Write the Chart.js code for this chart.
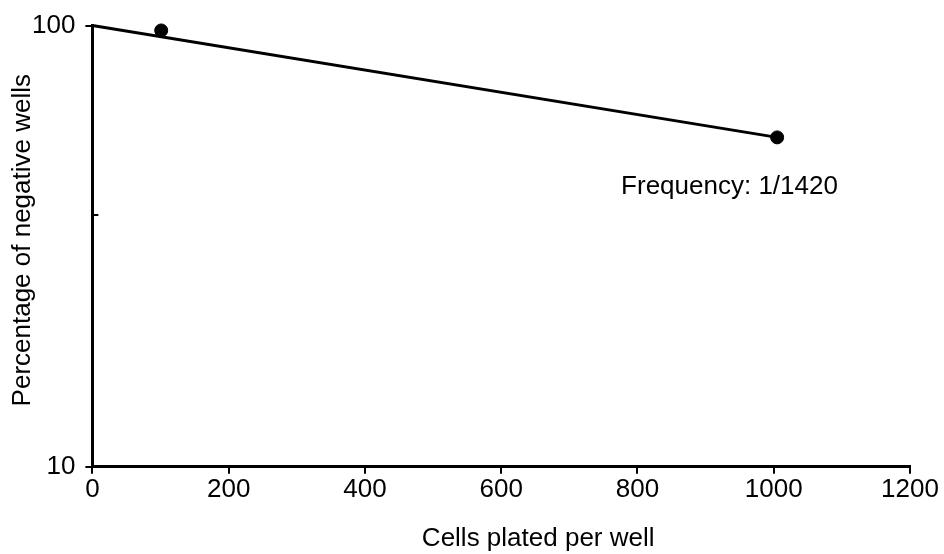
<!DOCTYPE html>
<html>
<head>
<meta charset="utf-8">
<script src="https://cdn.jsdelivr.net/npm/chart.js@4.4.1/dist/chart.umd.min.js"></script>
<style>
  html, body { margin: 0; padding: 0; background: #fff; }
  #wrap { width: 944px; height: 554px; }
</style>
</head>
<body>
<div id="wrap"><canvas id="chart"></canvas></div>
<script>
// measured wells
const cellsPlated = [101, 1005];
const pctNegative = [97.5, 55.8];

// fitted line (starts at 100% for zero cells)
const fitX = [0, 1005];
const fitY = [100, 55.8];

const yTickValues = [10, 100];
const yMinorTicks = [37.2];
const frequencyText = 'Frequency: 1/1420';
const frequencyAnchor = { x: 776, y: 43 };
const xTitle = 'Cells plated per well';
const yTitle = 'Percentage of negative wells';

const FONT = "'Liberation Sans', Arial, sans-serif";
const FS = 26;

const extraMarks = {
    id: 'extraMarks',
    afterDraw(chart) {
        const ctx = chart.ctx;
        const xs = chart.scales.x;
        const ys = chart.scales.y;
        ctx.save();
        // small inward tick on the y axis
        ctx.strokeStyle = '#000';
        ctx.lineWidth = 2;
        yMinorTicks.forEach(v => {
            const py = Math.round(ys.getPixelForValue(v));
            ctx.beginPath();
            ctx.moveTo(xs.left, py);
            ctx.lineTo(xs.left + 6, py);
            ctx.stroke();
        });
        ctx.fillStyle = '#000';
        ctx.font = FS + 'px ' + FONT;
        ctx.textBaseline = 'middle';
        ctx.textAlign = 'left';
        ctx.fillText(frequencyText, xs.getPixelForValue(frequencyAnchor.x), ys.getPixelForValue(frequencyAnchor.y));
        // axis titles, both a bit off-centre in the original
        ctx.textAlign = 'center';
        ctx.fillText(xTitle, (xs.left + xs.right) / 2 + 37, chart.height - 15);
        ctx.translate(23, (ys.top + ys.bottom) / 2 - 6);
        ctx.rotate(-Math.PI / 2);
        ctx.fillText(yTitle, 0, 0);
        ctx.restore();
    }
};

new Chart(document.getElementById('chart').getContext('2d'), {
    type: 'scatter',
    data: {
        datasets: [{
            type: 'line',
            data: fitX.map((x, i) => ({ x: x, y: fitY[i] })),
            borderColor: '#000',
            borderWidth: 3,
            pointRadius: 0,
            fill: false,
            clip: false
        }, {
            data: cellsPlated.map((x, i) => ({ x: x, y: pctNegative[i] })),
            backgroundColor: '#000',
            borderColor: '#000',
            pointRadius: 6.5,
            clip: false
        }]
    },
    options: {
        responsive: true,
        maintainAspectRatio: false,
        animation: false,
        layout: { padding: { top: 24, right: 34, left: 22, bottom: 49 } },
        plugins: { legend: { display: false }, tooltip: { enabled: false } },
        scales: {
            x: {
                type: 'linear',
                min: 0,
                max: 1200,
                ticks: { stepSize: 200, color: '#000', font: { family: FONT, size: FS }, padding: 0, maxRotation: 0, callback: v => String(v) },
                grid: { drawOnChartArea: false, drawTicks: true, tickLength: 7, color: '#000', lineWidth: 2 },
                border: { color: '#000', width: 3 },
                title: { display: false }
            },
            y: {
                type: 'logarithmic',
                min: 10,
                max: 100,
                afterBuildTicks: (scale) => { scale.ticks = yTickValues.map(v => ({ value: v })); },
                ticks: { color: '#000', font: { family: FONT, size: FS }, padding: 10, callback: v => String(v) },
                grid: { drawOnChartArea: false, drawTicks: true, tickLength: 7, color: '#000', lineWidth: 2 },
                border: { color: '#000', width: 3 },
                title: { display: false }
            }
        }
    },
    plugins: [extraMarks]
});
</script>
</body>
</html>
